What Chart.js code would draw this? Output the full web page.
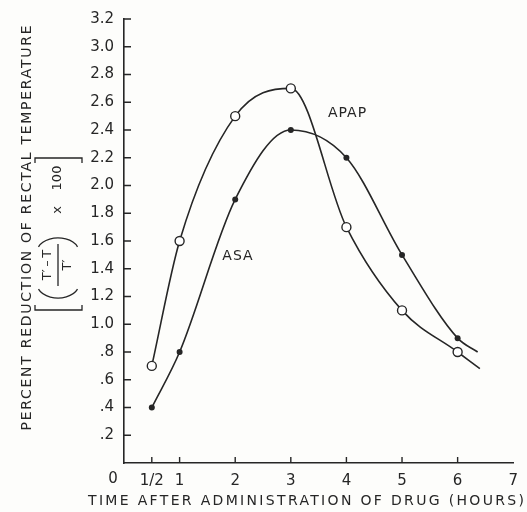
<!DOCTYPE html>
<html lang="en">
<head>
    <meta charset="UTF-8">
    <title>Percent Reduction of Rectal Temperature</title>
    <script src="https://cdn.jsdelivr.net/npm/chart.js"></script>
    <style>
        body {
            margin: 0;
            background: #fdfdfb;
        }
        #tempChart {
            display: block;
        }
    </style>
</head>
<body>
    <canvas id="tempChart" width="527" height="512"></canvas>

    <script>
        // values
        const hours = [0.5, 1, 2, 3, 4, 5, 6];
        const apapValues = [0.7, 1.6, 2.5, 2.7, 1.7, 1.1, 0.8];   // open circles
        const asaValues = [0.4, 0.8, 1.9, 2.4, 2.2, 1.5, 0.9];    // filled dots
        const apapTail = [6.4, 0.68];   // where the drawn curve stops
        const asaTail = [6.36, 0.8];

        const xTickValues = [0.5, 1, 2, 3, 4, 5, 6, 7];
        const xTickLabels = ['1/2', '1', '2', '3', '4', '5', '6', '7'];
        const yTickValues = [0.2, 0.4, 0.6, 0.8, 1.0, 1.2, 1.4, 1.6, 1.8, 2.0, 2.2, 2.4, 2.6, 2.8, 3.0, 3.2];
        const yTickLabels = ['.2', '.4', '.6', '.8', '1.0', '1.2', '1.4', '1.6', '1.8', '2.0', '2.2', '2.4', '2.6', '2.8', '3.0', '3.2'];

        const seriesLabels = ['APAP', 'ASA'];
        const labelPositions = [[4.02, 2.52], [2.05, 1.49]];

        const ink = '#262626';
        const font = '"DejaVu Sans", sans-serif';

        function toPoints(xs, ys, tail) {
            let pts = xs.map(function(x, i) { return {x: x, y: ys[i]}; });
            pts.push({x: tail[0], y: tail[1]});
            return pts;
        }

        // text spread out to a given length, like the lettering on the original
        function spacedText(ctx, text, cx, cy, length) {
            ctx.letterSpacing = '0px';
            let w = ctx.measureText(text).width;
            let sp = (length - w) / (text.length - 1);
            ctx.letterSpacing = sp + 'px';
            ctx.textAlign = 'left';
            ctx.fillText(text, cx - length / 2, cy);
            ctx.letterSpacing = '0px';
        }

        const decorPlugin = {
            id: 'decor',
            afterDraw: function(chart) {
                const ctx = chart.ctx;
                const xs = chart.scales.x;
                const ys = chart.scales.y;
                const area = chart.chartArea;
                ctx.save();
                ctx.strokeStyle = ink;
                ctx.fillStyle = ink;
                ctx.lineWidth = 1.4;

                // inward tick marks
                ctx.beginPath();
                xTickValues.slice(0, 7).forEach(function(v) {
                    let px = xs.getPixelForValue(v);
                    ctx.moveTo(px, area.bottom);
                    ctx.lineTo(px, area.bottom - 6);
                });
                yTickValues.forEach(function(v) {
                    let py = ys.getPixelForValue(v);
                    ctx.moveTo(area.left, py);
                    ctx.lineTo(area.left + 7, py);
                });
                ctx.stroke();

                // corner zero
                ctx.font = '15px ' + font;
                ctx.textAlign = 'center';
                ctx.textBaseline = 'middle';
                ctx.fillText('0', xs.getPixelForValue(0) - 11, area.bottom + 16);

                // axis titles
                ctx.font = '14px ' + font;
                spacedText(ctx, 'TIME AFTER ADMINISTRATION OF DRUG (HOURS)', 306, 501, 436);

                ctx.save();
                ctx.translate(27, 228);
                ctx.rotate(-Math.PI / 2);
                spacedText(ctx, 'PERCENT REDUCTION OF RECTAL TEMPERATURE', 0, 0, 405);
                ctx.restore();

                // [ ((T' - T) / T') x 100 ]
                ctx.save();
                ctx.translate(58, 234);
                ctx.rotate(-Math.PI / 2);
                ctx.lineWidth = 1.3;
                ctx.beginPath();
                ctx.moveTo(-71, -23); ctx.lineTo(-76, -23); ctx.lineTo(-76, 24); ctx.lineTo(-71, 24);
                ctx.moveTo(71, -23); ctx.lineTo(76, -23); ctx.lineTo(76, 24); ctx.lineTo(71, 24);
                ctx.stroke();
                ctx.beginPath();
                ctx.ellipse(-50, 0, 14, 21, 0, Math.PI * 0.62, Math.PI * 1.38);
                ctx.stroke();
                ctx.beginPath();
                ctx.ellipse(-18, 0, 14, 21, 0, -Math.PI * 0.38, Math.PI * 0.38);
                ctx.stroke();
                ctx.beginPath();
                ctx.moveTo(-52, 0); ctx.lineTo(-10, 0);
                ctx.stroke();
                ctx.font = '13px ' + font;
                ctx.textAlign = 'center';
                ctx.textBaseline = 'middle';
                ctx.fillText('T\u2032\u2009\u2013\u2009T', -31, -10);
                ctx.fillText('T\u2032', -31, 10);
                ctx.fillText('x', 24, 0);
                ctx.fillText('100', 56, 0);
                ctx.restore();

                // curve labels
                ctx.font = '14px ' + font;
                ctx.textAlign = 'center';
                ctx.textBaseline = 'middle';
                ctx.letterSpacing = '1px';
                seriesLabels.forEach(function(name, i) {
                    let p = labelPositions[i];
                    ctx.fillText(name, xs.getPixelForValue(p[0]), ys.getPixelForValue(p[1]));
                });
                ctx.letterSpacing = '0px';
                ctx.restore();
            }
        };

        let tempChartCtx = document.getElementById('tempChart').getContext('2d');
        let tempChart = new Chart(tempChartCtx, {
            type: 'line',
            data: {
                datasets: [{
                    label: 'APAP',
                    data: toPoints(hours, apapValues, apapTail),
                    borderColor: ink,
                    borderWidth: 1.6,
                    pointRadius: hours.map(function() { return 4.5; }).concat([0]),
                    pointBackgroundColor: '#ffffff',
                    pointBorderColor: ink,
                    pointBorderWidth: 1.4,
                    cubicInterpolationMode: 'monotone',
                    fill: false
                }, {
                    label: 'ASA',
                    data: toPoints(hours, asaValues, asaTail),
                    borderColor: ink,
                    borderWidth: 1.6,
                    pointRadius: hours.map(function() { return 3; }).concat([0]),
                    pointBackgroundColor: ink,
                    pointBorderColor: ink,
                    pointBorderWidth: 0,
                    cubicInterpolationMode: 'monotone',
                    fill: false
                }]
            },
            options: {
                responsive: false,
                animation: false,
                layout: {
                    padding: {top: 17, right: 5, left: 0, bottom: 0}
                },
                plugins: {
                    legend: {display: false},
                    tooltip: {enabled: false}
                },
                scales: {
                    x: {
                        type: 'linear',
                        min: 0,
                        max: 7,
                        grid: {display: false, drawTicks: false},
                        border: {display: true, color: ink, width: 1.6},
                        afterBuildTicks: function(scale) {
                            scale.ticks = xTickValues.map(function(v) { return {value: v}; });
                        },
                        afterFit: function(scale) { scale.height = 49; },
                        ticks: {
                            color: ink,
                            padding: 9,
                            maxRotation: 0,
                            autoSkip: false,
                            font: {family: font, size: 15},
                            callback: function(value, index) { return xTickLabels[index]; }
                        }
                    },
                    y: {
                        type: 'linear',
                        min: 0,
                        max: 3.2,
                        grid: {display: false, drawTicks: false},
                        border: {display: true, color: ink, width: 1.6},
                        afterBuildTicks: function(scale) {
                            scale.ticks = yTickValues.map(function(v) { return {value: v}; });
                        },
                        afterFit: function(scale) { scale.width = 124; },
                        ticks: {
                            color: ink,
                            padding: 10,
                            autoSkip: false,
                            font: {family: font, size: 15},
                            callback: function(value, index) { return yTickLabels[index]; }
                        }
                    }
                }
            },
            plugins: [decorPlugin]
        });
    </script>
</body>
</html>
